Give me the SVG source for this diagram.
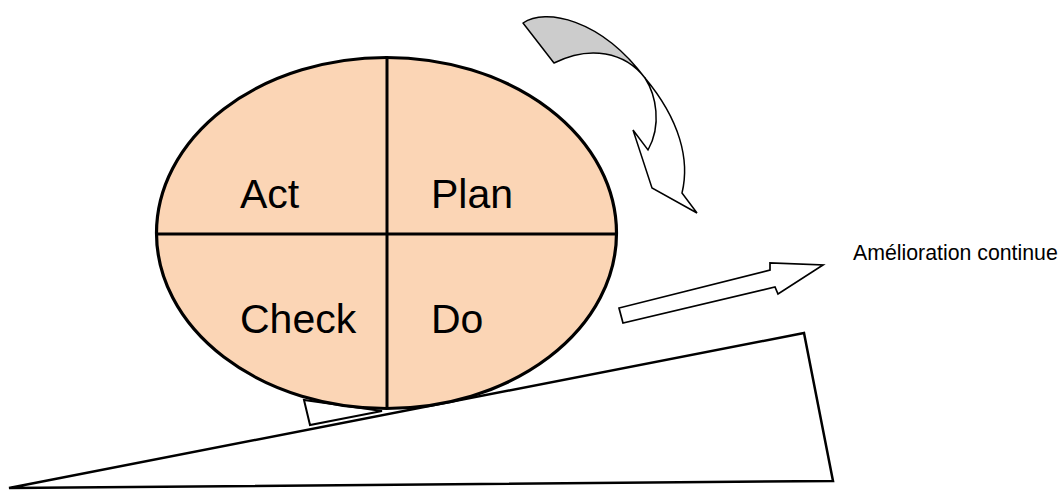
<svg xmlns="http://www.w3.org/2000/svg" width="1062" height="490" viewBox="0 0 1062 490">
<style>
.ln{fill:none;stroke:#000;stroke-linejoin:miter}
.big{font-family:"Liberation Sans",Arial,sans-serif;font-size:41px;fill:#000}
.small{font-family:"Liberation Sans",Arial,sans-serif;font-size:21.3px;fill:#000}
</style>
<rect width="1062" height="490" fill="#fff"/>
<g id="ramp">
<polygon points="9,488 804,333 833,481" fill="#fff" stroke="#000" stroke-width="2.5" stroke-linejoin="miter"/>
</g>
<g id="wedge">
<polygon points="304,400 310,425 382,411" fill="#fff" stroke="#000" stroke-width="2"/>
</g>
<g id="cycle">
<ellipse cx="386.5" cy="233" rx="230" ry="175.5" fill="#FBD5B5" stroke="#000" stroke-width="3.2"/>
<line x1="387" y1="58" x2="387" y2="408" stroke="#000" stroke-width="3"/>
<line x1="157" y1="234" x2="616" y2="234" stroke="#000" stroke-width="3"/>
</g>
<g id="act"><text class="big" x="240" y="208">Act</text></g>
<g id="plan"><text class="big" x="431" y="208">Plan</text></g>
<g id="check"><text class="big" x="240" y="333">Check</text></g>
<g id="do"><text class="big" x="431" y="333">Do</text></g>
<g id="curved-arrow">
<path d="M523,23 C545,8 600,18 645,78 C625,52 590,45 554,63 Z" fill="#CCCCCC" stroke="#000" stroke-width="1.5" stroke-linejoin="round"/>
<path d="M645,78 C656,95 662,125 648,150 L633,130 L652,188 L697,213 L682,193 C690,160 680,120 645,78 Z" fill="#fff" stroke="#000" stroke-width="1.5" stroke-linejoin="miter"/>
</g>
<g id="straight-arrow">
<polygon points="623,323 619,308 770,270 770,263 823,265 778,294 775,287" fill="#fff" stroke="#000" stroke-width="1.7"/>
</g>
<g id="label"><text class="small" x="853" y="260">Amélioration continue</text></g>
</svg>
